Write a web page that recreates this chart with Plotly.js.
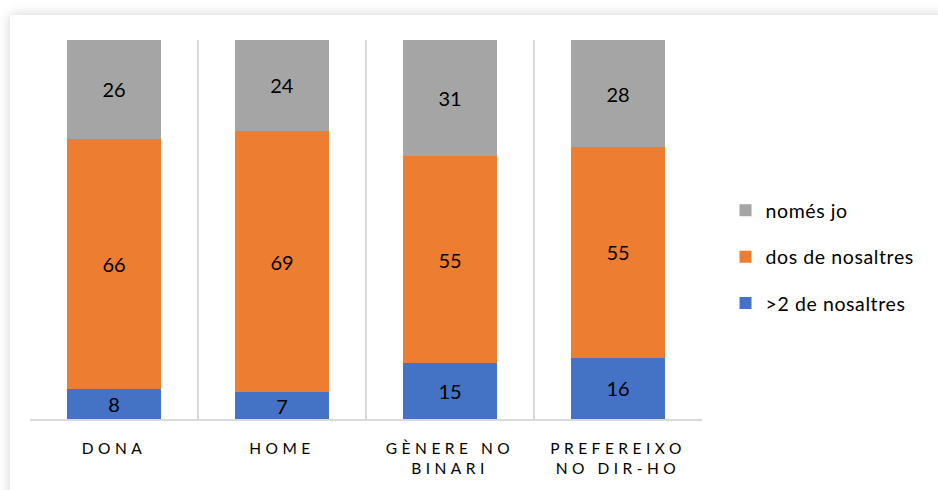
<!DOCTYPE html>
<html>
<head>
<meta charset="utf-8">
<script src="https://cdn.plot.ly/plotly-3.0.1.min.js"></script>
<style>
  html, body { margin: 0; padding: 0; background: #ffffff; width: 938px; height: 490px; overflow: hidden; }
  #card { position: absolute; left: 10px; top: 15px; width: 940px; height: 490px; background: #fff;
          box-shadow: 0 0 12px rgba(0,0,0,0.18); }
  #chart { position: absolute; left: 0; top: 0; width: 938px; height: 490px; }
  .xtick text { letter-spacing: 4.5px; }
  .legendtext { letter-spacing: 0.6px; }
</style>
</head>
<body>
<div id="card"></div>
<div id="chart"></div>
<script>
const categories = ["DONA", "HOME", "GÈNERE NO<br>BINARI", "PREFEREIXO<br>NO DIR-HO"];
const seriesNames = [">2 de nosaltres", "dos de nosaltres", "només jo"];
const moreThanTwo = [8, 7, 15, 16];
const twoOfUs = [66, 69, 55, 55];
const onlyMe = [26, 24, 31, 28];
const colors = ["#4472C4", "#ED7D31", "#A5A5A5"];

const seriesValues = [moreThanTwo, twoOfUs, onlyMe];
const traces = seriesValues.map((vals, i) => ({
  type: "bar",
  name: seriesNames[i],
  x: categories,
  y: vals,
  text: vals.map(String),
  texttemplate: "%{text}",
  textposition: "inside",
  insidetextanchor: "middle",
  textangle: 0,
  constraintext: "none",
  textfont: { family: "Lato, 'Noto Sans', sans-serif", size: 20, color: "#000000" },
  marker: { color: colors[i], line: { width: 0 } },
  legendgroup: "g" + i,
  legendrank: 3 - i,
  hoverinfo: "skip"
}));

const layout = {
  width: 938, height: 490,
  margin: { l: 30, r: 236, t: 40, b: 71 },
  paper_bgcolor: "rgba(0,0,0,0)",
  plot_bgcolor: "rgba(0,0,0,0)",
  barmode: "stack",
  barnorm: "percent",
  bargap: 0.44,
  font: { family: "Lato, 'Noto Sans', sans-serif", color: "#000000" },
  xaxis: {
    type: "category",
    range: [-0.5, 3.5],
    tickson: "boundaries",
    showgrid: true,
    gridcolor: "#d9d9d9",
    gridwidth: 2,
    showline: true,
    linecolor: "#d9d9d9",
    linewidth: 2,
    ticks: "",
    tickfont: { size: 15.5, color: "#000000" },
    ticklabelstandoff: 14,
    fixedrange: true
  },
  yaxis: {
    range: [0, 100],
    visible: false,
    showgrid: false,
    zeroline: false,
    fixedrange: true
  },
  showlegend: true,
  legend: {
    x: 1.035, xref: "paper", xanchor: "left",
    y: 0.427, yanchor: "middle",
    traceorder: "grouped",
    tracegroupgap: 18,
    font: { size: 19.5, color: "#000000" },
    itemwidth: 30,
    bgcolor: "rgba(0,0,0,0)"
  }
};

Plotly.newPlot("chart", traces, layout, { displayModeBar: false, staticPlot: true });
</script>
</body>
</html>
